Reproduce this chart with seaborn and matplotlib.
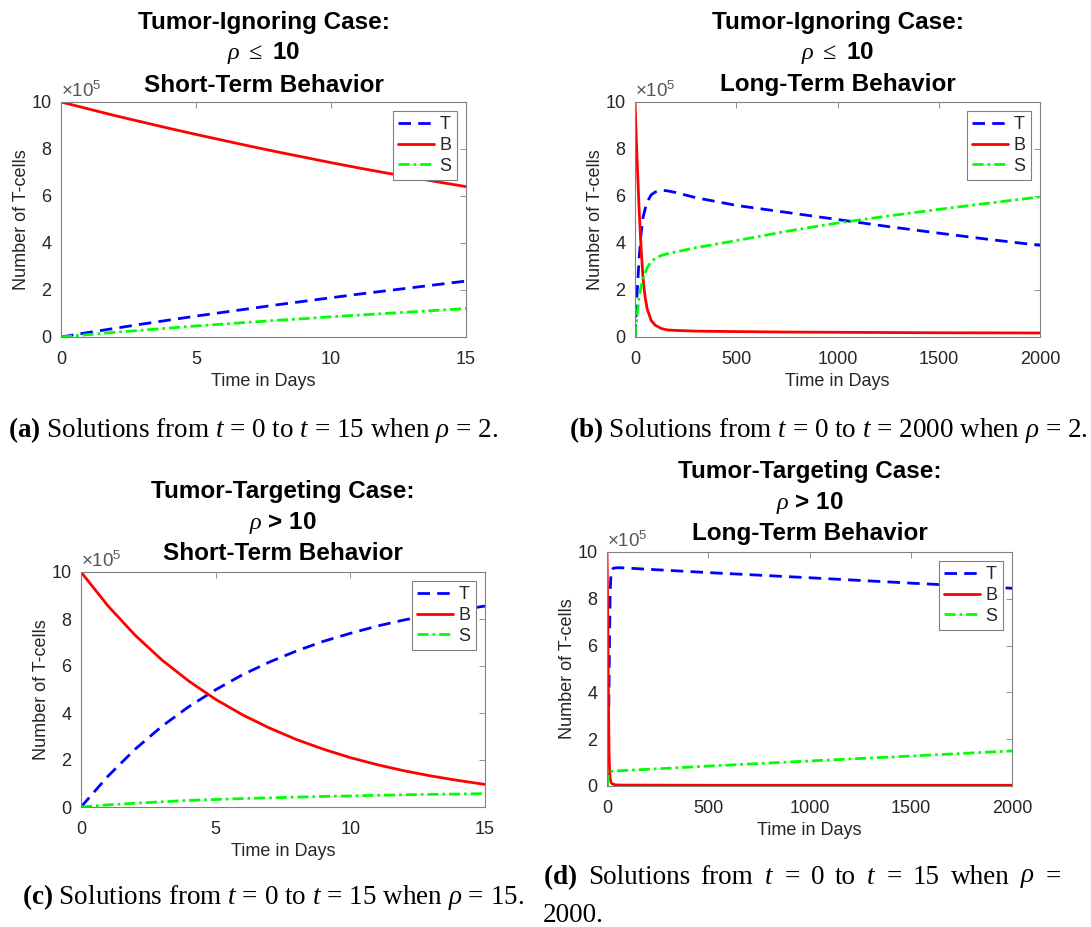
import pandas as pd
import seaborn as sns
import matplotlib.pyplot as plt

# all values in units of 10^5 T-cells
t_a = [0, 1, 2, 3, 4, 5, 6, 7, 8, 9, 10, 11, 12, 13, 14, 15]
T_a = [0, 0.19, 0.37, 0.55, 0.72, 0.89, 1.05, 1.21, 1.37, 1.52, 1.67, 1.82, 1.96, 2.10, 2.24, 2.38]
B_a = [10, 9.71, 9.42, 9.15, 8.88, 8.62, 8.37, 8.12, 7.88, 7.65, 7.42, 7.20, 6.99, 6.79, 6.59, 6.40]
S_a = [0, 0.10, 0.20, 0.29, 0.38, 0.47, 0.55, 0.63, 0.71, 0.78, 0.86, 0.93, 1.00, 1.07, 1.14, 1.21]

t_b = [0, 10, 20, 30, 40, 50, 60, 80, 100, 130, 160, 200, 300, 500, 750, 1000, 1250, 1500, 1750, 2000]
T_b = [0, 1.8, 3.3, 4.4, 5.1, 5.45, 5.75, 6.05, 6.17, 6.24, 6.22, 6.15, 5.93, 5.6, 5.3, 5.0, 4.7, 4.42, 4.15, 3.9]
B_b = [10, 7.6, 5.5, 3.8, 2.45, 1.7, 1.2, 0.7, 0.5, 0.36, 0.3, 0.28, 0.25, 0.23, 0.21, 0.2, 0.19, 0.18, 0.175, 0.17]
S_b = [0, 0.9, 1.7, 2.15, 2.45, 2.72, 2.95, 3.2, 3.35, 3.47, 3.54, 3.62, 3.8, 4.1, 4.5, 4.85, 5.15, 5.43, 5.7, 5.96]

t_c = [0, 1, 2, 3, 4, 5, 6, 7, 8, 9, 10, 11, 12, 13, 14, 15]
T_c = [0, 1.31, 2.45, 3.43, 4.27, 4.99, 5.63, 6.17, 6.64, 7.05, 7.39, 7.70, 7.96, 8.18, 8.38, 8.55]
B_c = [10, 8.56, 7.32, 6.26, 5.36, 4.58, 3.92, 3.36, 2.87, 2.46, 2.10, 1.80, 1.54, 1.32, 1.13, 0.96]
S_c = [0, 0.09, 0.16, 0.22, 0.28, 0.32, 0.36, 0.39, 0.42, 0.45, 0.47, 0.50, 0.52, 0.54, 0.55, 0.57]

t_d = [0, 2, 4, 6, 8, 10, 13, 16, 20, 25, 30, 40, 60, 500, 1000, 1500, 2000]
T_d = [0, 0.45, 1.0, 1.6, 2.8, 4.2, 6.6, 8.4, 9.1, 9.25, 9.3, 9.32, 9.33, 9.12, 8.9, 8.67, 8.45]
B_d = [10, 8.6, 6.9, 5.0, 3.0, 1.5, 0.6, 0.3, 0.15, 0.1, 0.08, 0.05, 0.04, 0.03, 0.03, 0.03, 0.03]
S_d = [0, 0.12, 0.25, 0.37, 0.46, 0.52, 0.57, 0.6, 0.62, 0.63, 0.63, 0.64, 0.65, 0.85, 1.07, 1.28, 1.5]

sns.set_theme(style='white')
plt.rcParams['font.family'] = ['Liberation Sans', 'DejaVu Sans']
plt.rcParams['mathtext.fontset'] = 'custom'
plt.rcParams['mathtext.rm'] = 'Liberation Serif'
plt.rcParams['mathtext.it'] = 'Liberation Serif:italic'
plt.rcParams['mathtext.bf'] = 'Liberation Serif:bold'
plt.rcParams['mathtext.sf'] = 'Liberation Sans'

W, H = 1091, 927
fig = plt.figure(figsize=(W / 100, H / 100), dpi=100)
GREY = '#808080'
DARK = '#262626'
SERIF = ['Liberation Serif', 'DejaVu Serif']


def panel(box, t, T, B, S, xmax, xticks, titles, title_x, title_y):
    l, top, r, b = box
    ax = fig.add_axes([l / W, 1 - b / H, (r - l) / W, (b - top) / H])
    df = pd.DataFrame({'t': t, 'T': T, 'B': B, 'S': S})
    sns.lineplot(data=df, x='t', y='T', ax=ax, color='#0000ff', lw=2, label='T')
    sns.lineplot(data=df, x='t', y='B', ax=ax, color='#ff0000', lw=2, label='B')
    sns.lineplot(data=df, x='t', y='S', ax=ax, color='#00ff00', lw=2, label='S')
    ax.lines[0].set_dashes([4.5, 2.6])
    ax.lines[2].set_dashes([4, 1.4, 1, 1.4])
    ax.set_xlim(0, xmax)
    ax.set_ylim(0, 10)
    ax.set_xticks(xticks)
    ax.set_yticks([0, 2, 4, 6, 8, 10])
    ax.tick_params(direction='in', top=True, right=True, length=4, width=0.6,
                   color=GREY, labelcolor=DARK, labelsize=13, pad=7)
    ax.tick_params(axis='x', pad=10)
    for s in ax.spines.values():
        s.set_color(GREY)
        s.set_linewidth(0.8)
    ax.set_xlabel('Time in Days', fontsize=13, color=DARK, labelpad=4)
    ax.set_ylabel('Number of T-cells', fontsize=13, color=DARK, labelpad=1)
    ax.text(0.0, 1.004, r'$\mathsf{\times10^{5}}$', transform=ax.transAxes,
            ha='left', va='bottom', fontsize=13.5, color='#555555')
    leg = ax.legend(loc='upper right', fontsize=13, frameon=True, fancybox=False,
                    edgecolor=GREY, framealpha=1, handlelength=2.0,
                    handletextpad=0.3, labelspacing=0.2, borderpad=0.3,
                    borderaxespad=0.5)
    leg.get_frame().set_linewidth(0.8)
    for txt, y in zip(titles, title_y):
        fig.text(title_x / W, 1 - y / H, txt, ha='center', va='center',
                 fontsize=17.5, fontweight='bold', color='black')
    return ax


panel((61, 102, 466, 337), t_a, T_a, B_a, S_a, 15, [0, 5, 10, 15],
      ['Tumor-Ignoring Case:', r'$\rho\ \leq$ 10', 'Short-Term Behavior'],
      263.5, [22.7, 53.3, 85])
panel((635, 102, 1040, 337), t_b, T_b, B_b, S_b, 2000, [0, 500, 1000, 1500, 2000],
      ['Tumor-Ignoring Case:', r'$\rho\ \leq$ 10', 'Long-Term Behavior'],
      837.5, [22.7, 53.3, 85])
panel((81, 572, 485, 807), t_c, T_c, B_c, S_c, 15, [0, 5, 10, 15],
      ['Tumor-Targeting Case:', r'$\rho$ > 10', 'Short-Term Behavior'],
      283, [491.7, 523.3, 553.3])
panel((607, 552, 1012, 786), t_d, T_d, B_d, S_d, 2000, [0, 500, 1000, 1500, 2000],
      ['Tumor-Targeting Case:', r'$\rho$ > 10', 'Long-Term Behavior'],
      810, [471.7, 502.7, 533.3])

# captions
cap_kw = dict(fontsize=19.5, family=SERIF, color='black', va='center', ha='left')
fig.text(8 / W, 1 - 430 / H,
         r'$\mathbf{(a)}$ Solutions from $t$ = 0 to $t$ = 15 when $\rho$ = 2.', **cap_kw)
fig.text(569 / W, 1 - 430 / H,
         r'$\mathbf{(b)}$ Solutions from $t$ = 0 to $t$ = 2000 when $\rho$ = 2.', **cap_kw)
fig.text(22 / W, 1 - 897 / H,
         r'$\mathbf{(c)}$ Solutions from $t$ = 0 to $t$ = 15 when $\rho$ = 15.', **cap_kw)

# justified first line of caption (d)
words = [r'$\mathbf{(d)}$', 'Solutions', 'from', r'$t$', '=', '0', 'to', r'$t$',
         '=', '15', 'when', r'$\rho$', '=']
renderer = fig.canvas.get_renderer()
pieces = [fig.text(0, 1 - 877 / H, w, **cap_kw) for w in words]
widths = [p.get_window_extent(renderer).width for p in pieces]
x0, x1 = 543, 1061
gap = (x1 - x0 - sum(widths)) / (len(words) - 1)
x = x0
for p, w in zip(pieces, widths):
    p.set_x(x / W)
    x += w + gap
fig.text(543 / W, 1 - 915 / H, '2000.', **cap_kw)

fig.savefig('out.png', dpi=100, facecolor='white')
